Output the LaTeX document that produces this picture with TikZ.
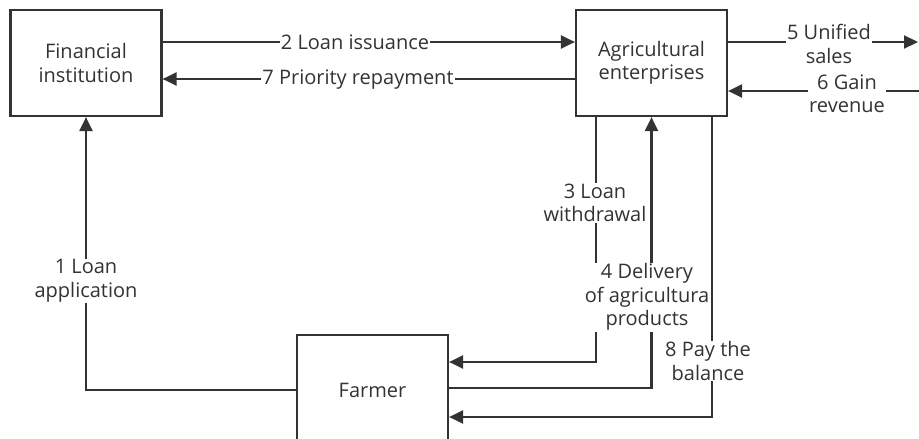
\documentclass[tikz,border=0pt]{standalone}
\usepackage{fontspec}
\setmainfont{Open Sans}
\usetikzlibrary{arrows.meta}
\definecolor{ink}{HTML}{333333}
\tikzset{
  box/.style={draw=ink, line width=2.2pt, minimum width=151pt, align=center, text=ink},
  arr/.style={draw=ink, line width=2.2pt, -{Triangle[length=14pt,width=13pt]}},
  lbl/.style={fill=white, inner sep=1pt, align=center, text=ink}
}
\begin{document}
\begin{tikzpicture}[x=1pt, y=-1pt, font=\fontsize{20}{23.5}\selectfont]
    \useasboundingbox (0,0) rectangle (919,439);
    \node[box, minimum height=106pt] (fin) at (86,63) {Financial\\institution};
    \node[box, minimum height=106pt] (agri) at (651.5,63) {Agricultural\\enterprises};
    \node[box, minimum height=110pt] (farmer) at (372.5,390) {Farmer};
    \coordinate (sales) at (918,42);
    \coordinate (revenue) at (919,91);

    % loan flows between institution and enterprises
    \draw[arr] ([yshift=21pt]fin.east) -- ([yshift=21pt]agri.west);
    \draw[arr] ([yshift=-16pt]agri.west) -- ([yshift=-16pt]fin.east);
    \draw[arr] ([yshift=21pt]agri.east) -- (sales);
    \draw[arr] (revenue) -- ([yshift=-28pt]agri.east);

    % farmer connections
    \draw[arr] (farmer.west) -| (fin.south);
    \draw[arr] ([xshift=-55.5pt]agri.south) |- ([yshift=28pt]farmer.east);
    \draw[arr] ([yshift=2pt]farmer.east) -| (agri.south);
    \draw[arr] ([xshift=60.5pt]agri.south) |- ([yshift=-27pt]farmer.east);

    \node[lbl] (l1) at (86,281) {1 Loan\\application};
    \node[lbl] (l2) at (355,42) {2 Loan issuance};
    \node[lbl] (l3) at (595,203) {3 Loan\\withdrawal};
    \node[lbl] (l4) at (647,297) {4 Delivery\\of agricultura\\products};
    \node[lbl] (l5) at (829,44) {5 Unified\\sales};
    \node[lbl] (l6) at (847,94) {6 Gain\\revenue};
    \node[lbl] (l7) at (358,80) {7 Priority repayment};
    \node[lbl] (l8) at (708,361) {8 Pay the\\balance};
\end{tikzpicture}
\end{document}
